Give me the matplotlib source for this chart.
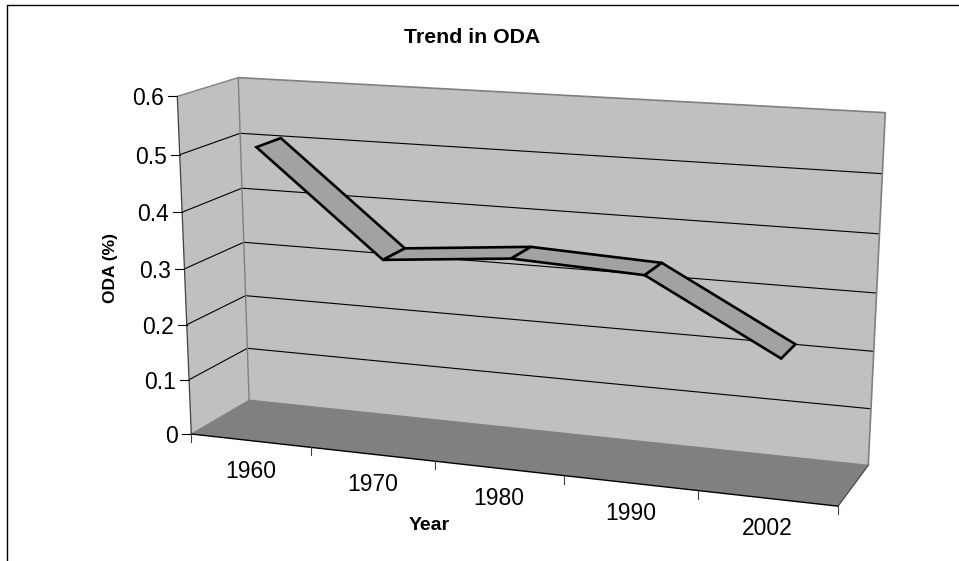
"""
Trend in ODA: Excel style 3D line (ribbon) chart, drawn with a small projection.
"""

import matplotlib.pyplot as plt
import numpy as np
from matplotlib.patches import Polygon

YEARS = ["1960", "1970", "1980", "1990", "2002"]
ODA = [0.51, 0.33, 0.35, 0.34, 0.22]
Y_TICKS = [0, 0.1, 0.2, 0.3, 0.4, 0.5, 0.6]
Y_TICK_LABELS = ["0", "0.1", "0.2", "0.3", "0.4", "0.5", "0.6"]

RIBBON_FRONT = 0.26
RIBBON_BACK = 0.68

WALL = "#c0c0c0"
FLOOR = "#808080"
RIBBON = "#a2a2a2"
EDGE = "#808080"

# box points (category, depth, value) and where they land on the page
BOX_POINTS = np.array([
    [0, 0, 0], [0, 1, 0], [5, 0, 0], [5, 1, 0],
    [0, 0, 0.6], [0, 1, 0.6], [5, 1, 0.6],
    [1, 0, 0], [2, 0, 0], [4, 0, 0],
    [5, 1, 0.1], [5, 1, 0.2],
])
PAGE_POINTS = np.array([
    [192, 434], [249, 400], [838, 506], [868, 465],
    [177.5, 95.7], [238, 78], [885, 113],
    [310, 447.7], [435, 461.5], [698, 490.7],
    [870.7, 409], [875, 351],
])


def fit_projection(box, page):
    rows = []
    for (u, d, v), (x, y) in zip(box, page):
        rows.append([u, d, v, 1, 0, 0, 0, 0, -x * u, -x * d, -x * v, -x])
        rows.append([0, 0, 0, 0, u, d, v, 1, -y * u, -y * d, -y * v, -y])
    return np.linalg.svd(np.array(rows))[2][-1].reshape(3, 4)


P = fit_projection(BOX_POINTS, PAGE_POINTS)


def project(u, d, v):
    x, y, w = P @ np.array([u, d, v, 1.0])
    return x / w, y / w


def face(ax, corners, color):
    ax.add_patch(Polygon(
        [project(*c) for c in corners],
        closed=True, facecolor=color, edgecolor="none",
    ))


def line(ax, a, b, color="black", lw=0.8, **kwargs):
    xa, ya = project(*a)
    xb, yb = project(*b)
    ax.plot([xa, xb], [ya, yb], color=color, lw=lw,
            solid_capstyle="round", **kwargs)


plt.rcParams["font.family"] = ["Liberation Sans", "DejaVu Sans"]

fig = plt.figure(figsize=(9.59, 5.61), dpi=100)
ax = fig.add_axes([0, 0, 1, 1])
ax.set_xlim(0, 959)
ax.set_ylim(561, 0)
ax.axis("off")

# chart frame (only top and left are inside the crop)
ax.plot([7, 7, 959], [561, 4.5, 4.5], color="black", lw=1.0)

top = Y_TICKS[-1]
n = len(YEARS)

face(ax, [(0, 0, 0), (0, 1, 0), (0, 1, top), (0, 0, top)], WALL)
face(ax, [(0, 1, 0), (n, 1, 0), (n, 1, top), (0, 1, top)], WALL)
face(ax, [(0, 0, 0), (n, 0, 0), (n, 1, 0), (0, 1, 0)], FLOOR)

for tick in Y_TICKS[1:-1]:
    line(ax, (0, 0, tick), (0, 1, tick))
    line(ax, (0, 1, tick), (n, 1, tick))

line(ax, (0, 0, top), (0, 1, top), color=EDGE, lw=1.0)
line(ax, (0, 1, top), (n, 1, top), color=EDGE, lw=1.2)
line(ax, (0, 1, 0), (0, 1, top), color=EDGE, lw=1.0)
line(ax, (n, 1, 0), (n, 1, top), color=EDGE, lw=1.2)
line(ax, (0, 1, 0), (n, 1, 0), color=EDGE, lw=1.0)
line(ax, (0, 0, 0), (0, 1, 0), color=EDGE, lw=0.8)
line(ax, (n, 0, 0), (n, 1, 0), color="#404040", lw=0.8)

# value axis
line(ax, (0, 0, 0), (0, 0, top), color="#404040", lw=0.9)
for tick, label in zip(Y_TICKS, Y_TICK_LABELS):
    x, y = project(0, 0, tick)
    ax.plot([x - 9, x], [y, y], color="black", lw=0.8)
    ax.text(x - 13, y, label, ha="right", va="center_baseline", fontsize=16.5)

# category axis
line(ax, (0, 0, 0), (n, 0, 0), color="black", lw=1.0)
for i in range(n + 1):
    x, y = project(i, 0, 0)
    ax.plot([x, x], [y, y + 8], color="#404040", lw=0.8)
for i, year in enumerate(YEARS):
    x, y = project(i + 0.5, 0, 0)
    ax.text(x, y + 28, year, ha="center", va="center_baseline", fontsize=16.5)

# ribbon
for i in range(n - 1):
    corners = [
        project(i + 0.5, RIBBON_FRONT, ODA[i]),
        project(i + 0.5, RIBBON_BACK, ODA[i]),
        project(i + 1.5, RIBBON_BACK, ODA[i + 1]),
        project(i + 1.5, RIBBON_FRONT, ODA[i + 1]),
    ]
    ax.add_patch(Polygon(
        corners, closed=True, facecolor=RIBBON, edgecolor="black",
        linewidth=1.9, joinstyle="miter", zorder=3 + i,
    ))

ax.text(472, 37, "Trend in ODA", ha="center", va="center",
        fontsize=15.3, fontweight="bold")
ax.text(429.5, 525, "Year", ha="center", va="center",
        fontsize=14, fontweight="bold")
ax.text(110, 268, "ODA (%)", ha="center", va="center", rotation=90,
        fontsize=12.5, fontweight="bold")

plt.savefig("out.png", dpi=100)
plt.close()
